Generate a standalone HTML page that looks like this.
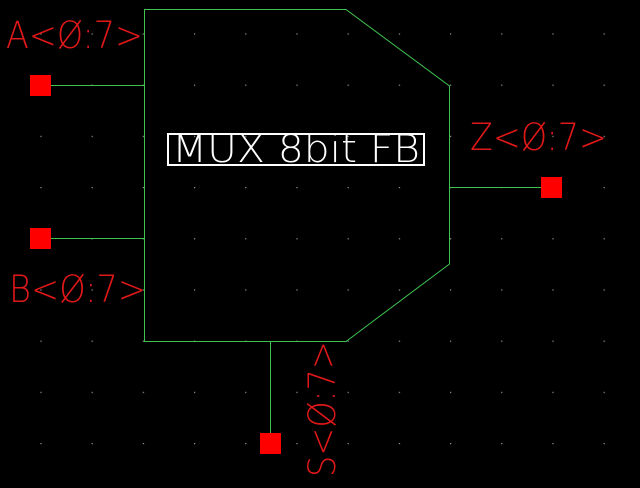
<!DOCTYPE html>
<html><head><style>html,body{margin:0;padding:0;background:#000;width:640px;height:488px;overflow:hidden}</style></head>
<body>
<svg width="640" height="488" xmlns="http://www.w3.org/2000/svg" style="display:block">
<defs>
<pattern id="g" x="40.4" y="33.4" width="51.2" height="51.2" patternUnits="userSpaceOnUse">
<rect x="0" y="0" width="1.2" height="1.2" fill="#9a9a9a"/>
</pattern>
</defs>
<rect width="640" height="488" fill="#000"/>
<rect width="640" height="488" fill="url(#g)"/>
<polygon points="144.5,9.5 346,9.5 449.5,86 449.5,264 346,341.5 144.5,341.5" fill="none" stroke="#3fc34f" stroke-width="1"/>
<line x1="50" y1="85.5" x2="144" y2="85.5" stroke="#3fc34f"/>
<line x1="50" y1="238.5" x2="144" y2="238.5" stroke="#3fc34f"/>
<line x1="450" y1="187.5" x2="542" y2="187.5" stroke="#3fc34f"/>
<line x1="270.5" y1="342" x2="270.5" y2="434" stroke="#3fc34f"/>
<rect x="30" y="75" width="21" height="21" fill="#f00"/>
<rect x="30" y="228" width="21" height="21" fill="#f00"/>
<rect x="541" y="177" width="21" height="21" fill="#f00"/>
<rect x="260" y="433" width="21" height="21" fill="#f00"/>
<rect x="168" y="134" width="256" height="31" fill="none" stroke="#fff" stroke-width="2"/>
<g font-family="DejaVu Sans, Liberation Sans, sans-serif" font-weight="200">
<text x="172" y="162" font-size="38" fill="#fff" textLength="248" lengthAdjust="spacingAndGlyphs">MUX 8bit FB</text>
<text x="6" y="48" font-size="37" fill="#e01818" textLength="137" lengthAdjust="spacingAndGlyphs">A&lt;Ø:7&gt;</text>
<text x="9" y="302" font-size="37" fill="#e01818" textLength="137" lengthAdjust="spacingAndGlyphs">B&lt;Ø:7&gt;</text>
<text x="470" y="150" font-size="37" fill="#e01818" textLength="137" lengthAdjust="spacingAndGlyphs">Z&lt;Ø:7&gt;</text>
<text transform="translate(335,477) rotate(-90)" x="0" y="0" font-size="37" fill="#e01818" textLength="136" lengthAdjust="spacingAndGlyphs">S&lt;Ø:7&gt;</text>
</g>
</svg>
</body></html>
